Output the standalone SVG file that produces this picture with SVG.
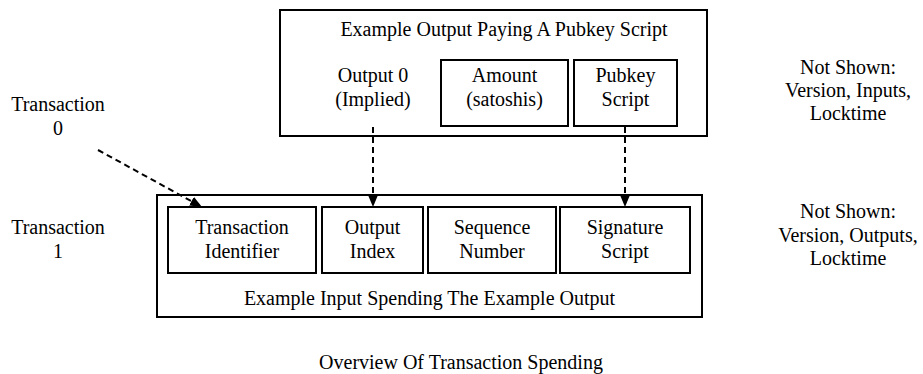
<svg xmlns="http://www.w3.org/2000/svg" width="923" height="374" viewBox="0 0 923 374">
<style>
.box{fill:#fff;stroke:#000;stroke-width:2}
.edge{fill:none;stroke:#000;stroke-width:2;stroke-dasharray:6,4}
text{font-family:'Liberation Serif','Times New Roman',serif;font-size:20px;text-anchor:middle;fill:#000}
</style>
<defs>
<marker id="ah" viewBox="0 0 12 10" refX="12" refY="5" markerWidth="12" markerHeight="10" markerUnits="userSpaceOnUse" orient="auto">
<path d="M0,0 L12,5 L0,10 z" fill="#000"/>
</marker>
</defs>
<g id="output-cluster">
<rect class="box" x="280" y="10" width="427" height="126"/>
<text x="504" y="36">Example Output Paying A Pubkey Script</text>
</g>
<g id="output0">
<text x="373" y="82">Output 0</text>
<text x="373" y="106">(Implied)</text>
</g>
<g id="amount">
<rect class="box" x="441" y="60" width="127" height="66"/>
<text x="504.5" y="82">Amount</text>
<text x="504.5" y="106">(satoshis)</text>
</g>
<g id="pubkey">
<rect class="box" x="574" y="60" width="103" height="66"/>
<text x="625.5" y="82">Pubkey</text>
<text x="625.5" y="106">Script</text>
</g>
<g id="notshown-top">
<text x="848" y="74">Not Shown:</text>
<text x="848" y="97">Version, Inputs,</text>
<text x="848" y="120">Locktime</text>
</g>
<g id="tx0">
<text x="58" y="111">Transaction</text>
<text x="58" y="135">0</text>
</g>
<g id="input-cluster">
<rect class="box" x="157" y="195" width="545" height="122"/>
<text x="429.5" y="305">Example Input Spending The Example Output</text>
</g>
<g id="txid">
<rect class="box" x="168" y="207" width="148" height="66"/>
<text x="242" y="234">Transaction</text>
<text x="242" y="258">Identifier</text>
</g>
<g id="outindex">
<rect class="box" x="322" y="207" width="101" height="66"/>
<text x="372.5" y="234">Output</text>
<text x="372.5" y="258">Index</text>
</g>
<g id="seq">
<rect class="box" x="428" y="207" width="128" height="66"/>
<text x="492" y="234">Sequence</text>
<text x="492" y="258">Number</text>
</g>
<g id="sig">
<rect class="box" x="560" y="207" width="130" height="66"/>
<text x="625" y="234">Signature</text>
<text x="625" y="258">Script</text>
</g>
<g id="tx1">
<text x="58" y="234">Transaction</text>
<text x="58" y="258">1</text>
</g>
<g id="notshown-bottom">
<text x="848" y="218">Not Shown:</text>
<text x="848" y="242">Version, Outputs,</text>
<text x="848" y="265">Locktime</text>
</g>
<g id="caption">
<text x="461" y="369">Overview Of Transaction Spending</text>
</g>
<g id="connectors">
<line class="edge" x1="98" y1="150" x2="202" y2="207" marker-end="url(#ah)"/>
<line class="edge" x1="373" y1="127" x2="373" y2="207" marker-end="url(#ah)"/>
<line class="edge" x1="625" y1="127" x2="625" y2="207" marker-end="url(#ah)"/>
</g>
</svg>
